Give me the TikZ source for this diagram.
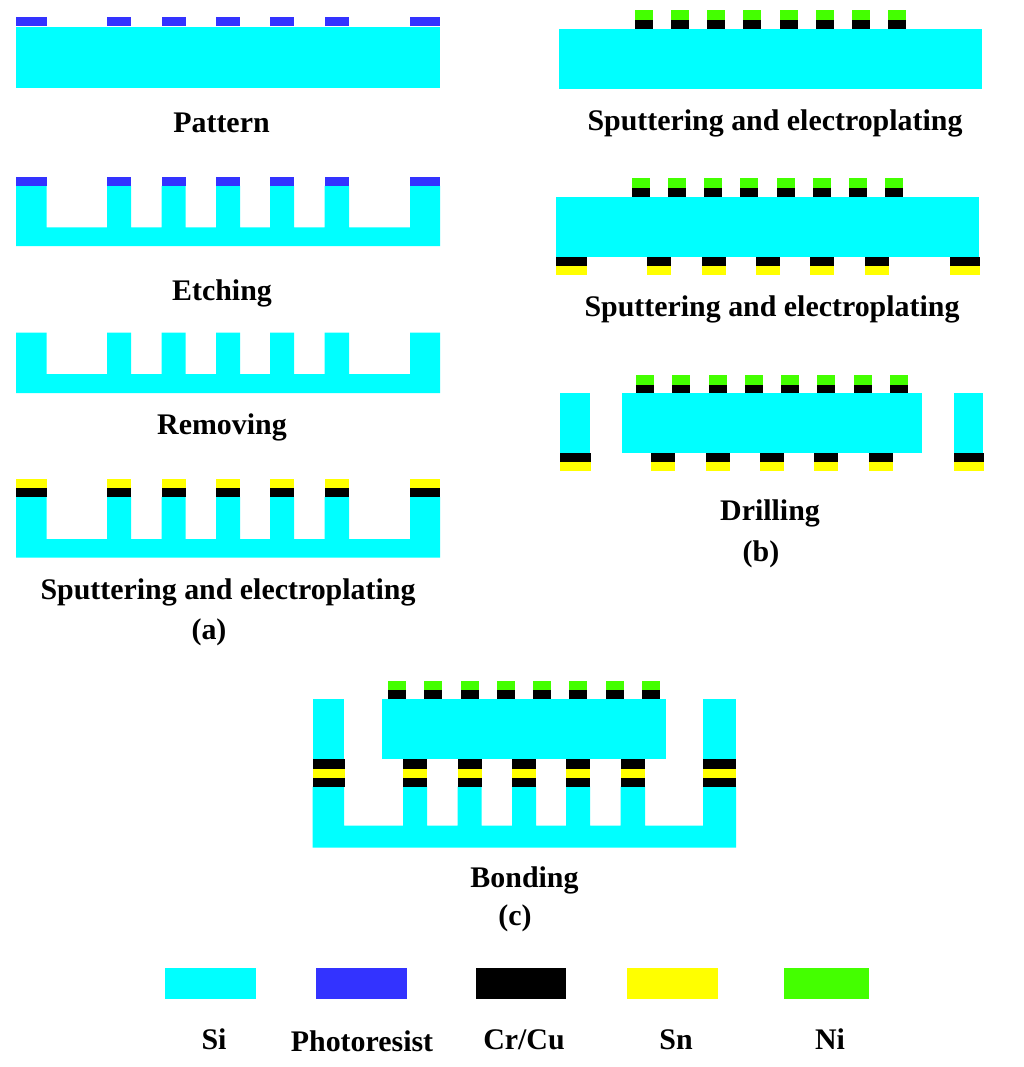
\documentclass[tikz,border=0pt]{standalone}
\usepackage{fontspec}
\setmainfont{Liberation Serif}
\definecolor{sicol}{HTML}{00FFFF}
\definecolor{prcol}{HTML}{3333FF}
\definecolor{sncol}{HTML}{FFFF00}
\definecolor{nicol}{HTML}{44FF00}
\tikzset{
  si/.style={fill=sicol},
  pr/.style={fill=prcol},
  cr/.style={fill=black},
  sn/.style={fill=sncol},
  ni/.style={fill=nicol},
  lbl/.style={anchor=base,inner sep=0pt,font=\fontsize{29.9}{32}\selectfont\bfseries}
}
\newcommand{\padrow}[4]{% style, y1, y2, x offset
  \foreach \a/\b in {16/46.5,107/131,161.5/185.5,216/240,270/294,324.5/349,410/440}
    \path[#1] ({\a+#4},#2) rectangle ({\b+#4},#3);}
\newcommand{\toppads}[3]{% start x, top y of Ni, unused
  \foreach \i in {0,...,7}{
    \path[ni] ({#1+36.25*\i},#2) rectangle ({#1+18+36.25*\i},#2+9.5);
    \path[cr] ({#1+36.25*\i},#2+9.5) rectangle ({#1+18+36.25*\i},#2+18.5);}}
\newcommand{\comb}[3]{% top y, base top y, bottom y
  \path[si] (16,#1) -- (46.5,#1) -- (46.5,#2) -- (107,#2) -- (107,#1) -- (131,#1) -- (131,#2)
    -- (161.5,#2) -- (161.5,#1) -- (185.5,#1) -- (185.5,#2) -- (216,#2) -- (216,#1) -- (240,#1) -- (240,#2)
    -- (270,#2) -- (270,#1) -- (294,#1) -- (294,#2) -- (324.5,#2) -- (324.5,#1) -- (349,#1) -- (349,#2)
    -- (410,#2) -- (410,#1) -- (440,#1) -- (440,#3) -- (16,#3) -- cycle;}
\begin{document}
\begin{tikzpicture}[x=1pt,y=-1pt]
\useasboundingbox[fill=white] (0,0) rectangle (1024,1067);
% panel a
\padrow{pr}{17}{26}{0}
\path[si] (16,27.5) rectangle (440,88);
\node[lbl] (t1) at (221.5,132.5) {Pattern};
\comb{186}{227.5}{246}
\padrow{pr}{177}{186}{0}
\node[lbl] (t2) at (222,300) {Etching};
\comb{332.5}{374}{393}
\node[lbl] (t3) at (222,434) {Removing};
\comb{497}{539}{557.5}
\padrow{sn}{479}{488}{0}
\padrow{cr}{488}{497}{0}
\node[lbl] (t4) at (228,599) {Sputtering and electroplating};
\node[lbl] (ta) at (209,639) {(a)};
% panel b, step 1
\toppads{634.5}{10.5}{}
\path[si] (559,29) rectangle (982,89.5);
\node[lbl] (t5) at (775,131) {Sputtering and electroplating};
% panel b, step 2
\toppads{631.5}{178.5}{}
\path[si] (556,197) rectangle (979,257);
\padrow{cr}{257}{266}{540}
\padrow{sn}{266}{275}{540}
\node[lbl] (t6) at (772,316) {Sputtering and electroplating};
% panel b, step 3
\toppads{636}{375}{}
\path[si] (560,393) rectangle (590,453);
\path[si] (622,393) rectangle (922,453);
\path[si] (954,393) rectangle (983,453);
\padrow{cr}{453}{462}{544}
\padrow{sn}{462}{471}{544}
\node[lbl] (t7) at (770,520) {Drilling};
\node[lbl] (tb) at (761,561) {(b)};
% panel c
\toppads{388}{680.5}{}
\path[si] (382,699) rectangle (666,759);
\path[si] (312.5,699) rectangle (344,759);
\path[si] (703,699) rectangle (736,759);
\path[si] (312.5,786.5) -- (344,786.5) -- (344,825.5)
  -- (403,825.5) -- (403,786.5) -- (427,786.5) -- (427,825.5)
  -- (457.5,825.5) -- (457.5,786.5) -- (481.5,786.5) -- (481.5,825.5)
  -- (512,825.5) -- (512,786.5) -- (536,786.5) -- (536,825.5)
  -- (566,825.5) -- (566,786.5) -- (590,786.5) -- (590,825.5)
  -- (620.5,825.5) -- (620.5,786.5) -- (645,786.5) -- (645,825.5)
  -- (703,825.5) -- (703,786.5) -- (736,786.5) -- (736,847.5) -- (312.5,847.5) -- cycle;
\foreach \a/\b in {312.5/345,403/427,457.5/481.5,512/536,566/590,620.5/645,703/736}{
  \path[cr] (\a,759) rectangle (\b,768.5);
  \path[sn] (\a,768.5) rectangle (\b,777.5);
  \path[cr] (\a,777.5) rectangle (\b,786.5);}
\node[lbl] (t8) at (524.5,887.5) {Bonding};
\node[lbl] (tc) at (515,925.5) {(c)};
% legend
\path[si] (165,968) rectangle (256,999);
\path[pr] (316,968) rectangle (407,999);
\path[cr] (476,968) rectangle (566,999);
\path[sn] (627,968) rectangle (718,999);
\path[ni] (784,968) rectangle (869,999);
\node[lbl] (l1) at (214,1049.5) {Si};
\node[lbl] (l2) at (362,1051) {Photoresist};
\node[lbl] (l3) at (524,1049.5) {Cr/Cu};
\node[lbl] (l4) at (676,1049.5) {Sn};
\node[lbl] (l5) at (830,1049.5) {Ni};
\end{tikzpicture}
\end{document}
